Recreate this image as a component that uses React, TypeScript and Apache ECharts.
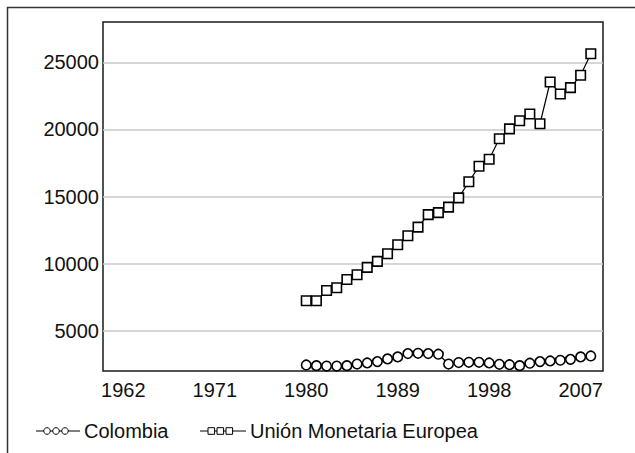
import React, { useEffect, useRef } from 'react';
import * as echarts from 'echarts';

const years = [
  1980, 1981, 1982, 1983, 1984, 1985, 1986, 1987, 1988, 1989,
  1990, 1991, 1992, 1993, 1994, 1995, 1996, 1997, 1998, 1999,
  2000, 2001, 2002, 2003, 2004, 2005, 2006, 2007, 2008,
];
const colombia = [
  2450, 2400, 2370, 2370, 2400, 2520, 2600, 2700, 2900, 3050,
  3300, 3320, 3300, 3250, 2520, 2630, 2650, 2650, 2600, 2500,
  2470, 2400, 2580, 2700, 2750, 2800, 2870, 3050, 3120,
];
const emu = [
  7230, 7230, 8000, 8200, 8820, 9170, 9720, 10170, 10730, 11400,
  12080, 12720, 13650, 13800, 14210, 14900, 16100, 17250, 17780, 19300,
  20040, 20640, 21150, 20420, 23530, 22640, 23110, 24030, 25640,
];
const xTickLabels = [1962, 1971, 1980, 1989, 1998, 2007];
const yTickLabels = [5000, 10000, 15000, 20000, 25000];
const seriesNames = ['Colombia', 'Unión Monetaria Europea'];

const FONT = '"Liberation Sans", Arial, sans-serif';
const FS = 20;

export default function App() {
  const ref = useRef<HTMLDivElement>(null);
  useEffect(() => {
    if (!ref.current) return;
    const chart = echarts.init(ref.current, null, { renderer: 'svg' });
    const legendY = 431;
    const plain = (v: number) => String(v);
    chart.setOption({
      animation: false,
      backgroundColor: '#fff',
      grid: {
        left: 103, right: 32, top: 22, bottom: 82,
        show: true, borderColor: '#1a1a1a', borderWidth: 1.5, backgroundColor: 'transparent',
      },
      xAxis: {
        type: 'value', min: 1960, max: 2009.2,
        axisLine: { show: false }, axisTick: { show: false, customValues: xTickLabels },
        splitLine: { show: false },
        axisLabel: { customValues: xTickLabels, formatter: plain, fontSize: FS, fontFamily: FONT, color: '#111', margin: 9 },
      },
      yAxis: {
        type: 'value', min: 2000, max: 28000,
        axisLine: { show: false }, axisTick: { show: false, customValues: yTickLabels },
        splitLine: { show: true, lineStyle: { color: '#c8c8c8', width: 1.5 } },
        axisLabel: { customValues: yTickLabels, formatter: plain, fontSize: FS, fontFamily: FONT, color: '#111', margin: 4 },
      },
      series: [
        {
          name: seriesNames[0], type: 'line', data: years.map((y, i) => [y, colombia[i]]),
          symbol: 'circle', symbolSize: 9.5,
          lineStyle: { color: '#000', width: 1.2 },
          itemStyle: { color: '#fff', borderColor: '#000', borderWidth: 1.6 },
          z: 3,
        },
        {
          name: seriesNames[1], type: 'line', data: years.map((y, i) => [y, emu[i]]),
          symbol: 'rect', symbolSize: 9.5,
          lineStyle: { color: '#000', width: 1.2 },
          itemStyle: { color: '#fff', borderColor: '#000', borderWidth: 1.6 },
          z: 3,
        },
      ],
      graphic: [
        { type: 'rect', left: 5, top: 5, shape: { x: 0, y: 0, width: 700, height: 500 }, style: { fill: 'none', stroke: '#333', lineWidth: 1.5 }, silent: true },
        { type: 'line', shape: { x1: 36, y1: legendY, x2: 80, y2: legendY }, style: { stroke: '#000', lineWidth: 1 } },
        { type: 'circle', shape: { cx: 47, cy: legendY, r: 3.3 }, style: { fill: '#fff', stroke: '#000', lineWidth: 1 } },
        { type: 'circle', shape: { cx: 56, cy: legendY, r: 3.3 }, style: { fill: '#fff', stroke: '#000', lineWidth: 1 } },
        { type: 'circle', shape: { cx: 65, cy: legendY, r: 3.3 }, style: { fill: '#fff', stroke: '#000', lineWidth: 1 } },
        { type: 'text', x: 84, y: legendY, style: { text: seriesNames[0], font: `${FS}px ${FONT}`, fill: '#111', verticalAlign: 'middle' } },
        { type: 'line', shape: { x1: 200, y1: legendY, x2: 246, y2: legendY }, style: { stroke: '#000', lineWidth: 1 } },
        { type: 'rect', shape: { x: 208, y: legendY - 3.3, width: 6.6, height: 6.6 }, style: { fill: '#fff', stroke: '#000', lineWidth: 1 } },
        { type: 'rect', shape: { x: 217, y: legendY - 3.3, width: 6.6, height: 6.6 }, style: { fill: '#fff', stroke: '#000', lineWidth: 1 } },
        { type: 'rect', shape: { x: 226, y: legendY - 3.3, width: 6.6, height: 6.6 }, style: { fill: '#fff', stroke: '#000', lineWidth: 1 } },
        { type: 'text', x: 250, y: legendY, style: { text: seriesNames[1], font: `${FS}px ${FONT}`, fill: '#111', verticalAlign: 'middle' } },
      ],
    });
    return () => chart.dispose();
  }, []);
  return <div ref={ref} style={{ position: 'fixed', left: 0, top: 0, width: 635, height: 453 }} />;
}
